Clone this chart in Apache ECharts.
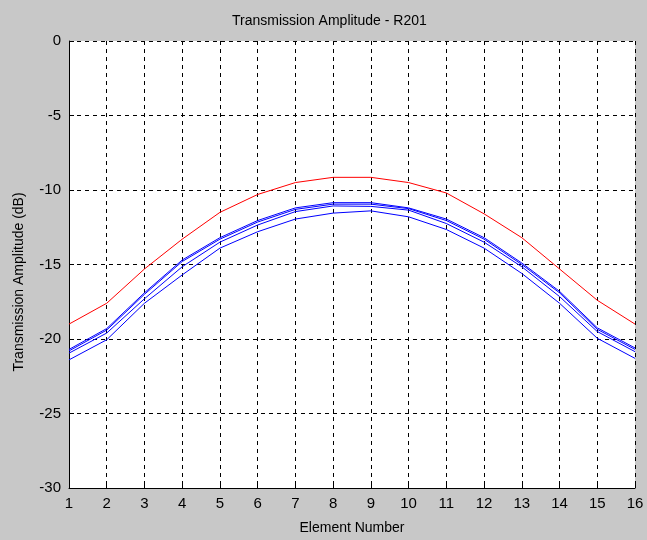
<!DOCTYPE html>
<html>
<head>
<meta charset="utf-8">
<script src="https://cdn.jsdelivr.net/npm/echarts@6/dist/echarts.min.js"></script>
<style>
  html, body { margin: 0; padding: 0; background: #c8c8c8; }
  #chart { width: 647px; height: 540px; }
</style>
</head>
<body>
<div id="chart"></div>
<script>
// Element index along the array
const elements = [1, 2, 3, 4, 5, 6, 7, 8, 9, 10, 11, 12, 13, 14, 15, 16];

// Transmission amplitude per element (dB)
const redTrace = [-19.0, -17.6, -15.3, -13.3, -11.5, -10.3, -9.5, -9.15, -9.15, -9.5, -10.2, -11.6, -13.2, -15.3, -17.4, -19.0];
const blueTraceA = [-20.7, -19.3, -16.9, -14.7, -13.2, -12.05, -11.2, -10.85, -10.85, -11.2, -11.95, -13.2, -14.9, -16.8, -19.25, -20.6];
const blueTraceB = [-20.8, -19.4, -17.0, -14.8, -13.3, -12.15, -11.3, -10.95, -10.95, -11.25, -12.05, -13.3, -15.0, -16.9, -19.35, -20.7];
const blueTraceC = [-20.95, -19.6, -17.3, -15.15, -13.5, -12.35, -11.45, -11.07, -11.1, -11.35, -12.25, -13.5, -15.15, -17.15, -19.5, -20.85];
const blueTraceD = [-21.4, -20.05, -17.6, -15.7, -13.9, -12.8, -11.95, -11.55, -11.4, -11.8, -12.65, -13.9, -15.6, -17.6, -19.95, -21.3];

const yTicks = [0, -5, -10, -15, -20, -25, -30];

const font = 'Liberation Sans, Arial, sans-serif';

function pairs(vals) {
  return elements.map((e, i) => [e, vals[i]]);
}

function trace(vals, color) {
  return {
    type: 'line',
    data: pairs(vals),
    symbol: 'none',
    lineStyle: { color: color, width: 1 },
    silent: true,
    animation: false
  };
}

const chart = echarts.init(document.getElementById('chart'));
chart.setOption({
  backgroundColor: '#c8c8c8',
  animation: false,
  title: {
    text: 'Transmission Amplitude - R201',
    left: 227,
    top: 9,
    textStyle: { fontFamily: font, fontSize: 14, fontWeight: 'normal', color: '#000' }
  },
  // vertical axis title
  graphic: [{
    type: 'text',
    x: 19,
    y: 282,
    rotation: Math.PI / 2,
    style: {
      text: 'Transmission Amplitude (dB)',
      fontFamily: font,
      fontSize: 14,
      fill: '#000',
      align: 'center',
      verticalAlign: 'middle'
    }
  }],
  grid: {
    left: 69, right: 12, top: 41, bottom: 52,
    show: true, backgroundColor: '#ffffff', borderWidth: 0
  },
  xAxis: {
    type: 'value',
    min: 1, max: 16, interval: 1,
    name: 'Element Number',
    nameLocation: 'middle',
    nameGap: 33,
    nameTextStyle: { fontFamily: font, fontSize: 14, color: '#000' },
    axisLine: { show: true, onZero: false, lineStyle: { color: '#000', width: 1 } },
    axisTick: { show: true, inside: true, length: 5, lineStyle: { color: '#000' } },
    axisLabel: { fontFamily: font, fontSize: 15, color: '#000', margin: 8 },
    splitLine: { show: true, lineStyle: { color: '#000', type: [4, 4], width: 1 } }
  },
  yAxis: {
    type: 'value',
    min: -30, max: 0, interval: 5,
    axisLine: { show: true, onZero: false, lineStyle: { color: '#000', width: 1 } },
    axisTick: { show: true, inside: true, length: 5, lineStyle: { color: '#000' } },
    axisLabel: {
      fontFamily: font, fontSize: 15, color: '#000', margin: 8,
      formatter: v => (yTicks.includes(v) ? String(v) : '')
    },
    splitLine: { show: true, lineStyle: { color: '#000', type: [4, 4], width: 1 } }
  },
  series: [
    trace(redTrace, '#ff0000'),
    trace(blueTraceA, '#0000ff'),
    trace(blueTraceB, '#0000ff'),
    trace(blueTraceC, '#0000ff'),
    trace(blueTraceD, '#0000ff')
  ]
});
</script>
</body>
</html>
